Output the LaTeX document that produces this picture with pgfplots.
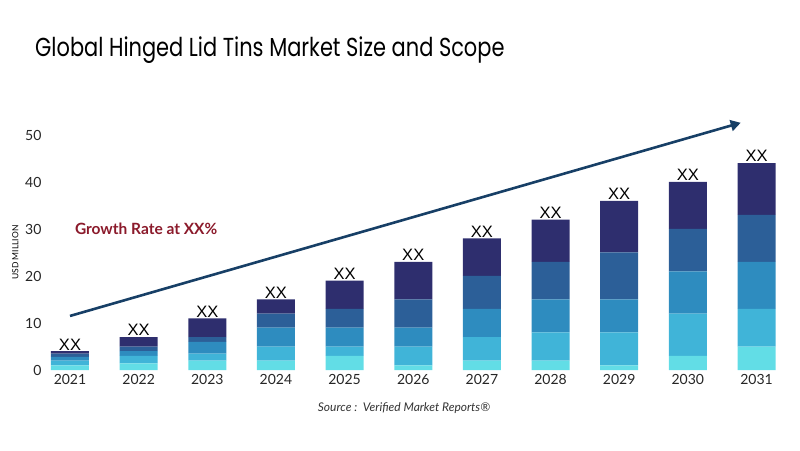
\documentclass[border=0pt]{standalone}
\usepackage{graphicx}
\usepackage{pgfplots}
\pgfplotsset{compat=1.18}
\usepackage{fontspec}
\setmainfont{Lato}
\newfontfamily\titlefont{Poppins}
\newfontfamily\xxfont{Liberation Sans}
\usetikzlibrary{arrows.meta}
\definecolor{cA}{HTML}{62DDE6}
\definecolor{cB}{HTML}{40B4D8}
\definecolor{cC}{HTML}{2E8CBF}
\definecolor{cD}{HTML}{2C5F98}
\definecolor{cE}{HTML}{2E2E6E}
\definecolor{arrowc}{HTML}{173F66}
\definecolor{growth}{HTML}{8B1A2B}
\tikzset{xx/.style={anchor=south, inner sep=1pt, font=\xxfont\fontsize{16.5}{18}\selectfont}}
\begin{document}
\begin{tikzpicture}
\path[use as bounding box] (0,0) rectangle (800pt,450pt);
\node[anchor=base west, inner sep=0pt, font=\titlefont\fontsize{26}{30}\selectfont] at (35pt,393pt) {\scalebox{0.805}[1]{Global Hinged Lid Tins Market Size and Scope}};
\begin{axis}[
  at={(70pt,80pt)}, anchor=origin,
  x=68.65pt, y=4.7pt,
  xmin=-0.35, xmax=10.4, ymin=0, ymax=50,
  clip=false,
  ybar stacked, bar width=38pt,
  axis line style={draw=none},
  major tick length=0pt,
  xtick={0,...,10},
  xticklabels={2021,2022,2023,2024,2025,2026,2027,2028,2029,2030,2031},
  ytick={0,10,20,30,40,50},
  tick label style={font=\fontsize{14}{16}\selectfont, text=black!85},
  /pgf/number format/assume math mode=true,
  xticklabel style={yshift=-1pt},
  yticklabel style={xshift=-1pt},
  ylabel={USD MILLION},
  ylabel style={font=\fontsize{8.5}{10}\selectfont, anchor=south},
  every axis y label/.append style={at={(ticklabel cs:0.5)}},
]
\addplot[fill=cA, draw=none] coordinates {(0,1) (1,1.4) (2,2) (3,2) (4,3) (5,1) (6,2) (7,2) (8,1) (9,3) (10,5)};
\addplot[fill=cB, draw=none] coordinates {(0,1) (1,1.6) (2,1.5) (3,3) (4,2) (5,4) (6,5) (7,6) (8,7) (9,9) (10,8)};
\addplot[fill=cC, draw=none] coordinates {(0,0.8) (1,1) (2,2.5) (3,4) (4,4) (5,4) (6,6) (7,7) (8,7) (9,9) (10,10)};
\addplot[fill=cD, draw=none] coordinates {(0,0.7) (1,1) (2,1) (3,3) (4,4) (5,6) (6,7) (7,8) (8,10) (9,9) (10,10)};
\addplot[fill=cE, draw=none] coordinates {(0,0.5) (1,2) (2,4) (3,3) (4,6) (5,8) (6,8) (7,9) (8,11) (9,10) (10,11)};
\draw[arrowc, line width=2.6pt, -{Triangle[length=10pt,width=11pt]}] (axis cs:0,11.5) -- (axis cs:9.77,52.6);
\node[anchor=west, inner sep=0pt, font=\bfseries\fontsize{15.5}{18}\selectfont, text=growth] at (axis cs:0.07,30) {Growth Rate at XX\%};
\node[xx] at (axis cs:0,4) {XX};
\node[xx] at (axis cs:1,7) {XX};
\node[xx] at (axis cs:2,11) {XX};
\node[xx] at (axis cs:3,15) {XX};
\node[xx] at (axis cs:4,19) {XX};
\node[xx] at (axis cs:5,23) {XX};
\node[xx] at (axis cs:6,28) {XX};
\node[xx] at (axis cs:7,32) {XX};
\node[xx] at (axis cs:8,36) {XX};
\node[xx] at (axis cs:9,40) {XX};
\node[xx] at (axis cs:10,44) {XX};
\end{axis}
\node[anchor=center, inner sep=0pt, font=\itshape\fontsize{12}{15}\selectfont, text=black!80] at (404pt,42pt) {Source :\ \ Verified Market Reports®};
\end{tikzpicture}
\end{document}
